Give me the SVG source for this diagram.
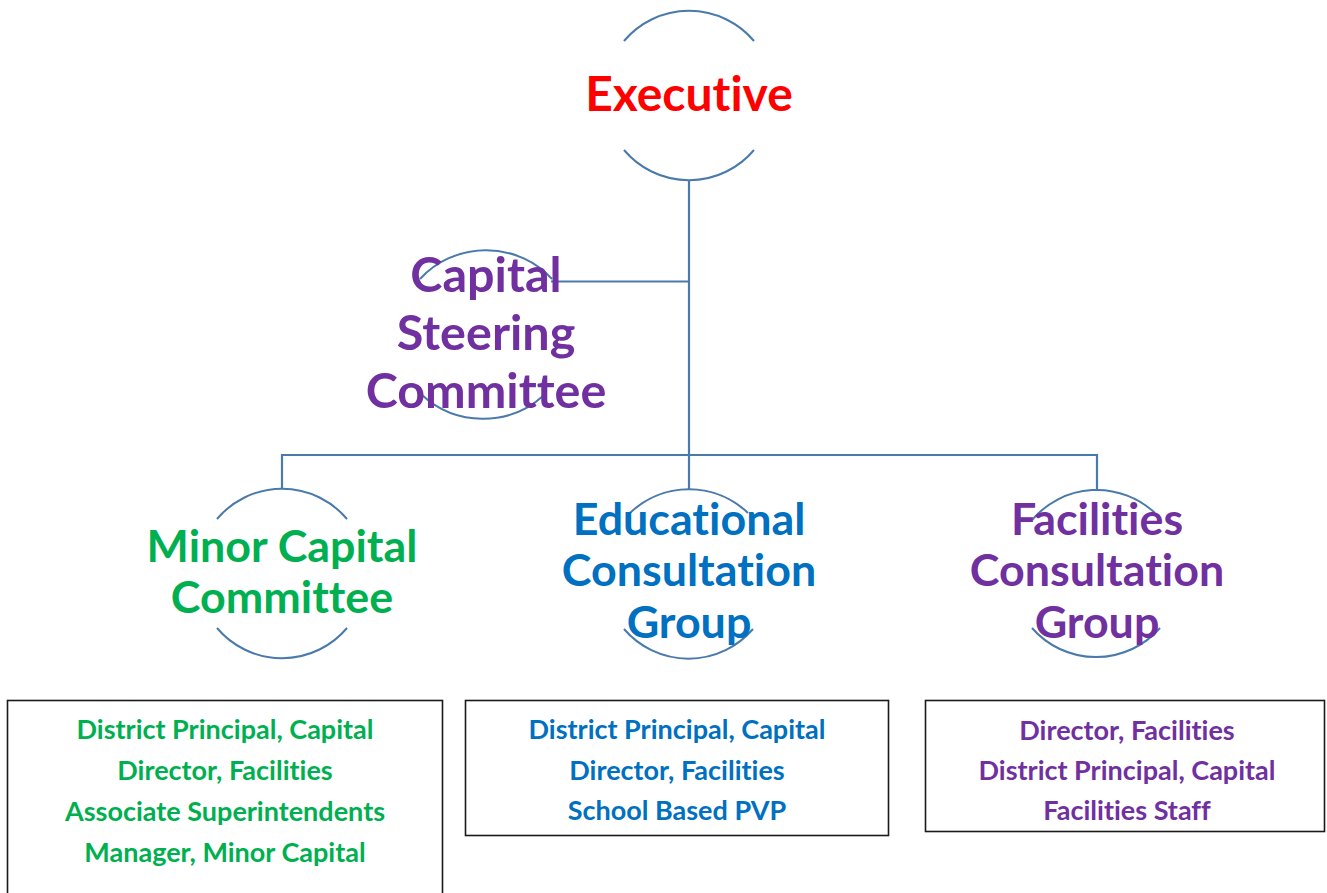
<svg xmlns="http://www.w3.org/2000/svg" width="1327" height="893" viewBox="0 0 1327 893">
<style>
.arc{fill:none;stroke:#4a7aab;stroke-width:2}
.conn{fill:none;stroke:#4a7aab;stroke-width:2.2}
.t{font-family:Lato,"Open Sans","Liberation Sans",sans-serif;font-weight:bold;text-anchor:middle;font-variant-ligatures:none}
.big{font-size:44.8px}
.small{font-size:27px}
.box{fill:#fff;stroke:#1a1a1a;stroke-width:1.6}
.red{fill:#ff0000}.green{fill:#00b050}.blue{fill:#0070c0}.purple{fill:#7030a0}
</style>
<rect width="1327" height="893" fill="#fff"/>
<g id="connectors">
<path class="conn" d="M689,181 V455"/>
<path class="conn" d="M551,281.5 H689"/>
<path class="conn" d="M282,489 V455 H1097 V489"/>
<path class="conn" d="M689,455 V489"/>
</g>
<g id="executive">
<path class="arc" d="M624,41 A85,85 0 0 1 754,41"/>
<path class="arc" d="M624,150 A85,85 0 0 0 754,150"/>
<text class="t red" x="689" y="111" font-size="48">Executive</text>
</g>
<g id="capital-steering">
<path class="arc" d="M420,279 A88,85 0 0 1 552,279"/>
<path class="arc" d="M422,395 A88,85 0 0 0 543,396"/>
<text class="t purple" font-size="48.5" x="486"><tspan x="486" y="292">Capital</tspan><tspan x="486" y="350">Steering</tspan><tspan x="486" y="408">Committee</tspan></text>
</g>
<g id="minor-capital">
<path class="arc" d="M217,519 A85,85 0 0 1 347,519"/>
<path class="arc" d="M217,628 A85,85 0 0 0 347,628"/>
<text class="t green big"><tspan x="282" y="562">Minor Capital</tspan><tspan x="282" y="613">Committee</tspan></text>
</g>
<g id="educational">
<path class="arc" d="M630,513 A85,85 0 0 1 748,513"/>
<path class="arc" d="M624,629 A85,85 0 0 0 753,629"/>
<text class="t blue big"><tspan x="689" y="535">Educational</tspan><tspan x="689" y="586">Consultation</tspan><tspan x="689" y="638">Group</tspan></text>
</g>
<g id="facilities">
<path class="arc" d="M1032,520 A85,85 0 0 1 1155,513"/>
<path class="arc" d="M1032,628 A85,85 0 0 0 1160,628"/>
<text class="t purple big"><tspan x="1097" y="535">Facilities</tspan><tspan x="1097" y="586">Consultation</tspan><tspan x="1097" y="638">Group</tspan></text>
</g>
<g id="box-minor">
<rect class="box" x="7.5" y="700.5" width="435" height="200"/>
<text class="t green small"><tspan x="225" y="739">District Principal, Capital</tspan><tspan x="225" y="780">Director, Facilities</tspan><tspan x="225" y="821">Associate Superintendents</tspan><tspan x="225" y="862">Manager, Minor Capital</tspan></text>
</g>
<g id="box-educational">
<rect class="box" x="465.5" y="700.5" width="423" height="135"/>
<text class="t blue small"><tspan x="677" y="739">District Principal, Capital</tspan><tspan x="677" y="780">Director, Facilities</tspan><tspan x="677" y="820">School Based PVP</tspan></text>
</g>
<g id="box-facilities">
<rect class="box" x="925.5" y="700.5" width="399" height="131"/>
<text class="t purple small"><tspan x="1127" y="740">Director, Facilities</tspan><tspan x="1127" y="780">District Principal, Capital</tspan><tspan x="1127" y="820">Facilities Staff</tspan></text>
</g>
</svg>
